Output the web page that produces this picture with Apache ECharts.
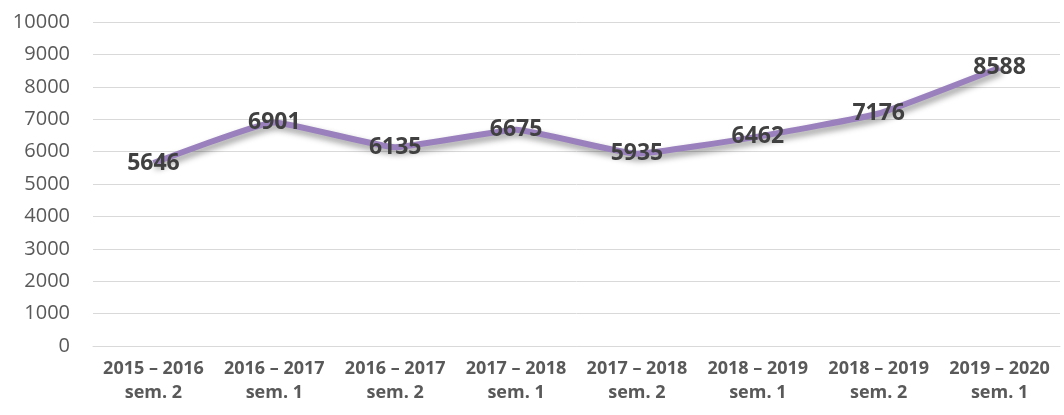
<!DOCTYPE html>
<html>
<head>
<meta charset="utf-8">
<script src="https://cdn.jsdelivr.net/npm/echarts@6/dist/echarts.min.js"></script>
<style>
html, body { margin: 0; padding: 0; background: #fff; }
#chart { width: 1064px; height: 415px; }
</style>
</head>
<body>
<div id="chart"></div>
<script>
var categories = ["2015 – 2016\nsem. 2", "2016 – 2017\nsem. 1", "2016 – 2017\nsem. 2", "2017 – 2018\nsem. 1",
    "2017 – 2018\nsem. 2", "2018 – 2019\nsem. 1", "2018 – 2019\nsem. 2", "2019 – 2020\nsem. 1"];
var values = [5646, 6901, 6135, 6675, 5935, 6462, 7176, 8588];
var yMin = 0, yMax = 10000, yStep = 1000;

var myChart = echarts.init(document.getElementById("chart"));
myChart.setOption({
    animation: false,
    grid: { left: 93, right: 4, top: 22, bottom: 69 },
    xAxis: {
        type: "category",
        data: categories,
        boundaryGap: true,
        axisLine: { show: true, lineStyle: { color: "#d9d9d9", width: 1 } },
        axisTick: { show: false },
        axisLabel: {
            interval: 0,
            color: "#595959",
            fontFamily: "Open Sans",
            fontWeight: "bold",
            fontSize: 18,
            lineHeight: 24,
            margin: 11
        }
    },
    yAxis: {
        type: "value",
        min: yMin,
        max: yMax,
        interval: yStep,
        axisLine: { show: false },
        axisTick: { show: false },
        splitLine: { lineStyle: { color: "#d9d9d9", width: 1 } },
        axisLabel: {
            color: "#595959",
            fontFamily: "Open Sans",
            fontSize: 20,
            margin: 23,
            formatter: function (v) { return String(v); }
        }
    },
    series: [{
        type: "line",
        data: values,
        smooth: 0.12,
        symbol: "circle",
        symbolSize: 1,
        itemStyle: { color: "rgba(0,0,0,0)" },
        lineStyle: {
            color: "#9a80bd",
            width: 6,
            shadowColor: "rgba(0,0,0,0.4)",
            shadowBlur: 6,
            shadowOffsetX: 2,
            shadowOffsetY: 4
        },
        label: {
            show: true,
            position: "inside",
            color: "#404040",
            fontFamily: "Open Sans",
            fontWeight: "bold",
            fontSize: 23
        }
    }]
});
</script>
</body>
</html>
